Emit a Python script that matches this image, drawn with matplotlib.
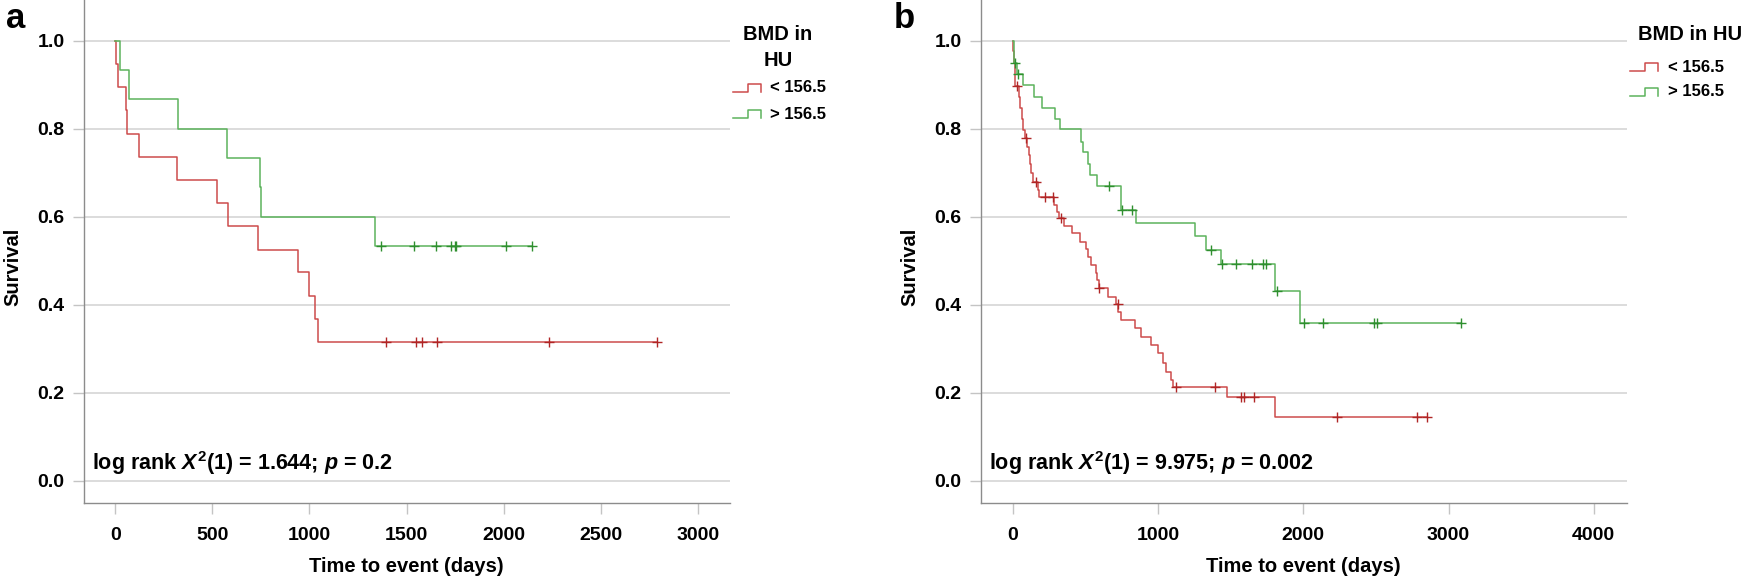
import matplotlib
matplotlib.use('Agg')
import matplotlib.pyplot as plt
from matplotlib.lines import Line2D
import numpy as np

plt.rcParams['font.family'] = 'Liberation Sans'
plt.rcParams['font.weight'] = 'bold'
plt.rcParams['mathtext.fontset'] = 'custom'
plt.rcParams['mathtext.rm'] = 'Liberation Sans:bold'
plt.rcParams['mathtext.it'] = 'Liberation Sans:italic:bold'

# panel a: survival steps (day, survival after the step) and censored days
a_low_t = [0, 1, 13, 52, 61, 119, 319, 521, 578, 735, 941, 999, 1028, 1045, 2790]
a_low_s = [1.0, 0.947, 0.895, 0.842, 0.789, 0.737, 0.684, 0.632, 0.579, 0.526,
           0.474, 0.421, 0.368, 0.316, 0.316]
a_low_cens = [1394, 1550, 1580, 1657, 2235, 2790]

a_high_t = [0, 25, 68, 322, 575, 747, 752, 1338, 2145]
a_high_s = [1.0, 0.933, 0.867, 0.80, 0.733, 0.667, 0.60, 0.533, 0.533]
a_high_cens = [1367, 1540, 1654, 1731, 1750, 1757, 2013, 2145]

# panel b
b_low_t = [0, 2, 7, 11, 16, 43, 52, 62, 72, 82, 99, 108, 115, 124, 135, 172, 181,
           285, 305, 318, 353, 405, 460, 506, 518, 541, 575, 582, 591, 655, 712,
           726, 747, 838, 884, 948, 999, 1033, 1052, 1090, 1102, 1473, 1808, 2850]
b_low_s = [1.0, 0.976, 0.949, 0.923, 0.898, 0.873, 0.848, 0.823, 0.798, 0.780,
           0.760, 0.740, 0.720, 0.700, 0.680, 0.662, 0.646, 0.628, 0.612, 0.597,
           0.580, 0.563, 0.544, 0.527, 0.510, 0.491, 0.473, 0.456, 0.438, 0.419,
           0.402, 0.385, 0.366, 0.347, 0.328, 0.309, 0.290, 0.269, 0.248, 0.230,
           0.213, 0.190, 0.145, 0.145]
b_low_cens = [25, 87, 156, 224, 277, 330, 593, 724, 1120, 1395, 1572, 1588, 1663,
              2230, 2780, 2850]

b_high_t = [0, 5, 25, 67, 146, 197, 293, 323, 470, 483, 515, 529, 579, 743, 850,
            1251, 1331, 1431, 1808, 1974, 3085]
b_high_s = [1.0, 0.95, 0.925, 0.900, 0.873, 0.848, 0.823, 0.799, 0.771, 0.747,
            0.720, 0.695, 0.671, 0.616, 0.587, 0.557, 0.525, 0.492, 0.432, 0.358,
            0.358]
b_high_cens = [14, 37, 659, 754, 823, 1361, 1437, 1533, 1645, 1723, 1741, 1820,
               2003, 2138, 2484, 2505, 3085]

groups = ['< 156.5', '> 156.5']
RED, RED_M = '#cd4b4b', '#b02626'
GREEN, GREEN_M = '#5cb35c', '#2f8f2f'

W, H = 1745, 580
fig = plt.figure(figsize=(W / 100, H / 100), dpi=100)


def km(ax, t, s, cens, color, mcolor):
    t = np.array(t)
    s = np.array(s)
    ax.plot(t, s, drawstyle='steps-post', color=color, lw=1.1, zorder=3)
    idx = np.searchsorted(t, cens, side='right') - 1
    ax.plot(cens, s[idx], '+', color=mcolor, ms=7, mew=1.0, zorder=4)


def style(ax, xmax, step, stat):
    ax.set_ylim(-0.05, 1.093)
    ax.set_yticks(np.arange(0, 1.01, 0.2))
    ax.set_yticklabels([f'{v:.1f}' for v in np.arange(0, 1.01, 0.2)])
    ax.set_xticks(np.arange(0, xmax + 1, step))
    for sp in ['top', 'right']:
        ax.spines[sp].set_visible(False)
    for sp in ['left', 'bottom']:
        ax.spines[sp].set_color('#8c8c8c')
        ax.spines[sp].set_linewidth(1.0)
    ax.grid(axis='y', color='#d2d2d2', lw=1.1)
    ax.set_axisbelow(True)
    ax.tick_params(axis='both', length=8, width=1.0, color='#c4c4c4',
                   labelsize=14, pad=6)
    ax.tick_params(axis='x', pad=9.5)
    ax.set_xlabel('Time to event (days)', fontsize=14.5, fontweight='bold')
    ax.set_ylabel('Survival', fontsize=14.5, fontweight='bold')
    ax.xaxis.label.set_va('center')
    ax.xaxis.set_label_coords(0.499, -0.127)
    ax.yaxis.label.set_va('center')
    ax.yaxis.set_label_coords(-0.11, 0.469)
    ax.text(0.012, 0.0795, stat, transform=ax.transAxes, fontsize=15.5,
            fontweight='bold', va='center', ha='left')


ax_a = fig.add_axes([84 / W, 1 - 503 / H, 646 / W, 503 / H])
km(ax_a, a_low_t, a_low_s, a_low_cens, RED, RED_M)
km(ax_a, a_high_t, a_high_s, a_high_cens, GREEN, GREEN_M)
ax_a.set_xlim(-162, 3167)
style(ax_a, 3000, 500, r'log rank $X^{2}$(1) = 1.644; $p$ = 0.2')

ax_b = fig.add_axes([981 / W, 1 - 503 / H, 646 / W, 503 / H])
km(ax_b, b_low_t, b_low_s, b_low_cens, RED, RED_M)
km(ax_b, b_high_t, b_high_s, b_high_cens, GREEN, GREEN_M)
ax_b.set_xlim(-220, 4229)
style(ax_b, 4000, 1000, r'log rank $X^{2}$(1) = 9.975; $p$ = 0.002')


def px(x, y):
    return x / W, 1 - y / H


def handle(x0, yc, color):
    xs = [x0, x0 + 15, x0 + 15, x0 + 28, x0 + 28]
    ys = [yc + 4, yc + 4, yc - 4, yc - 4, yc + 4]
    pts = [px(a, b) for a, b in zip(xs, ys)]
    fig.add_artist(Line2D([p[0] for p in pts], [p[1] for p in pts],
                          transform=fig.transFigure, color=color, lw=1.1))


# legend a
fig.text(*px(778, 35), 'BMD in', fontsize=14.5, fontweight='bold', ha='center', va='center')
fig.text(*px(778, 60), 'HU', fontsize=14.5, fontweight='bold', ha='center', va='center')
for i, (g, c) in enumerate(zip(groups, [RED, GREEN])):
    yc = 88 + 26 * i
    handle(733, yc, c)
    fig.text(*px(770, yc), g, fontsize=12, fontweight='bold', ha='left', va='center')

# legend b
fig.text(*px(1638, 35), 'BMD in HU', fontsize=14.5, fontweight='bold', ha='left', va='center')
for i, (g, c) in enumerate(zip(groups, [RED, GREEN])):
    yc = 67 + 25 * i
    handle(1630, yc, c)
    fig.text(*px(1668, yc), g, fontsize=12, fontweight='bold', ha='left', va='center')

fig.text(*px(16, 18), 'a', fontsize=25, fontweight='bold', ha='center', va='center')
fig.text(*px(904, 18), 'b', fontsize=25, fontweight='bold', ha='center', va='center')

fig.savefig('out.png', dpi=100)
